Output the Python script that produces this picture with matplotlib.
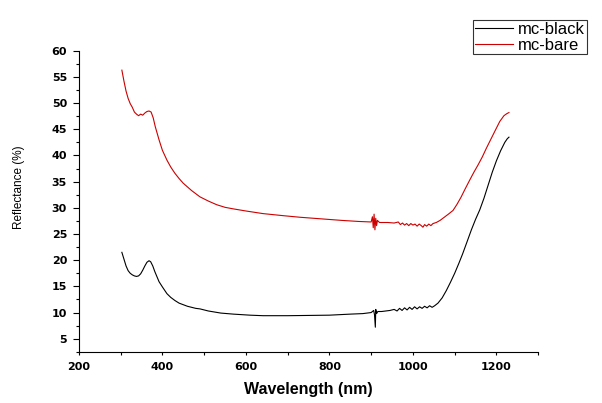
import matplotlib
matplotlib.use('Agg')
import matplotlib.pyplot as plt
from matplotlib.ticker import MultipleLocator

plt.rcParams['font.family'] = ['Liberation Sans', 'DejaVu Sans']

# mc-bare (red)
bare_wl = [303, 308, 313, 318, 323, 328, 333, 338, 343, 348, 353, 358, 363, 368, 373,
           378, 383, 392, 400, 411, 420, 430, 440, 450, 470, 490, 510, 530, 550, 570,
           600, 641, 690, 730, 780, 830, 870, 900, 903, 905, 907, 909, 911, 913, 915,
           920, 940, 955, 965, 970, 975, 980, 985, 990, 995, 1000, 1005, 1010, 1015, 1020,
           1024, 1028, 1033, 1038, 1043, 1048, 1056, 1065, 1075, 1085, 1096, 1105, 1115,
           1125, 1136, 1146, 1156, 1166, 1176, 1186, 1196, 1208, 1218, 1225, 1230]
bare_r = [56.3, 54.2, 52.3, 50.9, 49.9, 49.2, 48.3, 47.9, 47.6, 47.9, 47.7, 48.1, 48.4, 48.5, 48.3,
          47.2, 45.5, 43.0, 41.0, 39.1, 37.8, 36.6, 35.6, 34.7, 33.3, 32.1, 31.3, 30.6, 30.1, 29.8,
          29.4, 28.9, 28.5, 28.2, 27.9, 27.6, 27.4, 27.3, 28.3, 26.2, 28.8, 25.8, 28.0, 26.6, 27.6,
          27.2, 27.2, 27.1, 27.3, 26.8, 27.1, 26.7, 27.0, 26.6, 27.0, 26.7, 26.9, 26.5, 26.9, 26.6,
          26.3, 26.8, 26.5, 26.9, 26.6, 27.0, 27.2, 27.6, 28.2, 28.8, 29.5, 30.6, 32.0,
          33.6, 35.3, 36.8, 38.2, 39.7, 41.4, 43.0, 44.6, 46.5, 47.6, 48.0, 48.2]

# mc-black (black)
black_wl = [303, 308, 313, 318, 323, 328, 333, 338, 343, 348, 353, 358, 363, 368, 372,
            377, 382, 392, 400, 411, 420, 430, 440, 460, 480, 490, 510, 540, 570, 610,
            641, 700, 800, 850, 880, 900, 906, 908, 910, 911, 913, 916, 925, 945, 955,
            962, 968, 974, 980, 986, 992, 998, 1004, 1010, 1016, 1022, 1028, 1034, 1040,
            1046, 1052, 1060, 1070, 1080, 1090, 1100, 1110, 1119, 1130, 1140, 1150, 1160,
            1170, 1180, 1190, 1200, 1210, 1220, 1226, 1230]
black_r = [21.5, 20.2, 18.9, 18.0, 17.5, 17.2, 17.0, 16.9, 17.0, 17.4, 18.1, 18.9, 19.6, 19.9, 19.7,
           18.9, 17.8, 15.9, 14.9, 13.6, 12.9, 12.3, 11.8, 11.2, 10.8, 10.7, 10.3, 9.9, 9.7, 9.5,
           9.4, 9.4, 9.5, 9.7, 9.8, 10.0, 10.4, 9.6, 7.2, 10.6, 9.8, 10.2, 10.2, 10.4, 10.6,
           10.3, 10.8, 10.4, 10.9, 10.5, 11.0, 10.6, 11.1, 10.7, 11.1, 10.8, 11.2, 10.9, 11.3,
           11.0, 11.3, 11.8, 12.8, 14.2, 15.8, 17.5, 19.4, 21.2, 23.6, 25.8, 27.8, 29.6,
           31.8, 34.3, 36.8, 39.0, 40.9, 42.5, 43.2, 43.5]

fig = plt.figure(figsize=(6.02, 4.03), dpi=100)
ax = fig.add_axes([0.131, 0.127, 0.763, 0.747])

ax.plot(black_wl, black_r, color='black', lw=0.8, label='mc-black')
ax.plot(bare_wl, bare_r, color='#cc0000', lw=0.8, label='mc-bare')

ax.set_xlim(200, 1300)
ax.set_ylim(2.5, 60)
ax.xaxis.set_major_locator(MultipleLocator(200))
ax.xaxis.set_minor_locator(MultipleLocator(100))
ax.yaxis.set_minor_locator(MultipleLocator(2.5))
ax.set_yticks([5, 10, 15, 20, 25, 30, 35, 40, 45, 50, 55, 60])

for s in ['top', 'right']:
    ax.spines[s].set_visible(False)
ax.tick_params(which='major', direction='out', length=4.5, width=0.8)
ax.tick_params(which='minor', direction='out', length=2.5, width=0.8)
ax.tick_params(axis='x', which='both', length=2.5, pad=5)
ax.tick_params(axis='y', pad=4)
for lab in ax.get_xticklabels() + ax.get_yticklabels():
    lab.set_fontfamily('DejaVu Sans')
    lab.set_fontweight('bold')
    lab.set_fontsize(8)

ax.set_xlabel('Wavelength (nm)', fontsize=11.5, fontweight='bold')
ax.set_ylabel('Reflectance (%)', fontsize=8.5)
ax.xaxis.set_label_coords(0.5, -0.1)
ax.yaxis.set_label_coords(-0.117, 0.547)

leg = fig.legend(loc='upper left', bbox_to_anchor=(0.786, 0.950), fontsize=12,
                 frameon=True, fancybox=False, handlelength=2.3, borderpad=0.1,
                 labelspacing=0.05, handletextpad=0.3, borderaxespad=0)
leg.get_frame().set_edgecolor('black')
leg.get_frame().set_linewidth(0.8)

fig.savefig('out.png', dpi=100)
